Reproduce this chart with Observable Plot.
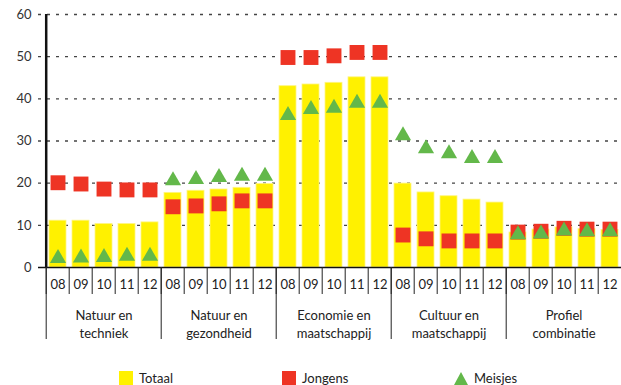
<!DOCTYPE html>
<html>
<head>
<meta charset="utf-8">
<script src="https://cdn.jsdelivr.net/npm/d3@7"></script>
<script src="https://cdn.jsdelivr.net/npm/@observablehq/plot@0.6"></script>
<style>
  html, body { margin: 0; padding: 0; background: #fff; }
  body { width: 621px; height: 385px; overflow: hidden; position: relative; font-family: Lato, "Open Sans", sans-serif; }
  #chart svg { display: block; overflow: hidden; }
  .legend { position: absolute; left: 0; top: 362px; width: 621px; height: 23px; font-size: 13px; color: #222; }
  .item { position: absolute; top: 9px; display: flex; align-items: center; height: 14px; }
  .sw { width: 14px; height: 14px; margin-right: 6px; }
  .tri { width: 0; height: 0; border-left: 7px solid transparent; border-right: 7px solid transparent; border-bottom: 13px solid #63b84a; margin-right: 6px; }
</style>
</head>
<body>
<div id="chart"></div>
<div class="legend">
  <div class="item" style="left:119px"><div class="sw" style="background:#fff100"></div><span>Totaal</span></div>
  <div class="item" style="left:282px"><div class="sw" style="background:#ee3424"></div><span>Jongens</span></div>
  <div class="item" style="left:454px"><div class="tri"></div><span>Meisjes</span></div>
</div>
<script>
const groups = ["Natuur en techniek", "Natuur en gezondheid", "Economie en maatschappij", "Cultuur en maatschappij", "Profiel combinatie"];
const groupLabels = ["Natuur en\ntechniek", "Natuur en\ngezondheid", "Economie en\nmaatschappij", "Cultuur en\nmaatschappij", "Profiel\ncombinatie"];
const years = ["08", "09", "10", "11", "12"];
const yTicks = [0, 10, 20, 30, 40, 50, 60];

const totaal = [
  11.1, 11.1, 10.3, 10.3, 10.7,
  17.7, 18.2, 18.5, 18.9, 19.8,
  43.0, 43.4, 43.8, 45.1, 45.1,
  19.9, 17.8, 16.9, 16.1, 15.4,
  8.3, 9.0, 9.5, 9.1, 8.9
];
const jongens = [
  20.1, 19.8, 18.6, 18.4, 18.4,
  14.4, 14.6, 15.1, 15.8, 15.8,
  49.8, 49.8, 50.2, 51.0, 51.0,
  7.7, 6.8, 6.3, 6.3, 6.3,
  8.4, 8.6, 9.3, 9.1, 9.1
];
const meisjes = [
  2.2, 2.3, 2.4, 2.7, 2.7,
  20.6, 20.9, 21.4, 21.7, 21.7,
  36.1, 37.5, 37.8, 39.0, 39.0,
  31.3, 28.2, 27.0, 25.9, 25.9,
  7.8, 8.0, 8.7, 8.5, 8.5
];

const rows = groups.flatMap((g, i) => years.map((y, j) => ({
  key: g + "|" + y, group: g, year: y,
  totaal: totaal[i * 5 + j], jongens: jongens[i * 5 + j], meisjes: meisjes[i * 5 + j]
})));
const keys = rows.map(d => d.key);
const firstKeys = groups.map(g => g + "|" + years[0]);
const midKeys = groups.map(g => g + "|" + years[2]);

const xRange = [38, 628];
const step = (xRange[1] - xRange[0]) / keys.length;
const half = -step / 2;

const font = "Lato, 'Open Sans', sans-serif";

const chart = Plot.plot({
  width: 621,
  height: 362,
  marginTop: 14,
  marginBottom: 95,
  marginLeft: 38,
  marginRight: 0,
  style: { fontFamily: font, fontSize: "13px", color: "#222", background: "#fff" },
  x: { type: "band", domain: keys, range: xRange, paddingInner: 0.28, paddingOuter: 0.14, axis: null },
  y: { domain: [0, 60], axis: null },
  marks: [
    Plot.gridY(yTicks.slice(1), { stroke: "#444", strokeOpacity: 1, strokeDasharray: "3,6", strokeWidth: 1.3 }),
    Plot.barY(rows, { x: "key", y: "totaal", fill: "#fff100", stroke: "#fff580", strokeWidth: 0.8 }),
    Plot.dot(rows, { x: "key", y: "jongens", symbol: "square", r: 8.4, fill: "#ee3424" }),
    Plot.dot(rows, { x: "key", y: "meisjes", symbol: "triangle", r: 6, fill: "#63b84a" }),
    Plot.ruleY([0], { stroke: "#111", strokeWidth: 1.5 }),
    Plot.axisY({ ticks: yTicks, tickSize: 0, tickPadding: 7, fontSize: 13, fill: "#333", label: null }),
    Plot.axisX({ ticks: keys, tickSize: 27, tickFormat: () => "", dx: half, stroke: "#222", label: null }),
    Plot.axisX({ ticks: firstKeys, tickSize: 72, tickFormat: () => "", dx: half, stroke: "#222", label: null }),
    Plot.axisX({ ticks: keys, tickSize: 0, tickPadding: 12, tickFormat: d => d.split("|")[1], fontSize: 13, fill: "#222", label: null }),
    Plot.text(midKeys, { x: d => d, text: (d, i) => groupLabels[i], frameAnchor: "bottom", dy: 56, lineHeight: 1.4, lineAnchor: "middle", fontSize: 13, fill: "#222" }),
    Plot.ruleX([firstKeys[0]], { x: d => d, y1: 0, y2: 60, dx: half, stroke: "#111", strokeWidth: 2.5 })
  ]
});
document.getElementById("chart").appendChild(chart);
</script>
</body>
</html>
